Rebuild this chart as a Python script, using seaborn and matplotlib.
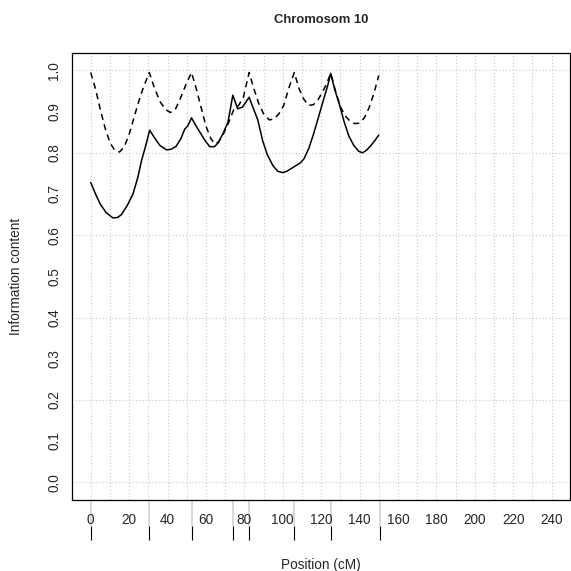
import matplotlib
matplotlib.use("Agg")
import matplotlib.pyplot as plt
import seaborn as sns
import numpy as np
import pandas as pd

# solid line: information content
pos_solid = [0, 2.5, 5, 8, 11.5, 14, 16, 19, 22, 24.5, 26.5, 28.5, 30.7, 33, 36, 39.5,
             42, 44.5, 47, 49, 50.5, 52.5, 54.5, 57, 59.5, 62, 64.5, 66.5, 69, 71.5, 74,
             76.5, 79, 82.5, 84.5, 87, 89.5, 92, 95, 97.5, 100, 102, 104.5, 106.5, 109,
             111, 113.5, 116, 118.5, 121, 123.5, 125, 127, 129.5, 132, 134.5, 137, 139.5,
             141.5, 143.5, 146, 148, 150]
info_solid = [0.728, 0.70, 0.675, 0.655, 0.642, 0.643, 0.65, 0.672, 0.70, 0.74, 0.782, 0.815,
              0.855, 0.838, 0.818, 0.807, 0.809, 0.816, 0.835, 0.858, 0.865, 0.885, 0.868,
              0.849, 0.83, 0.815, 0.815, 0.825, 0.848, 0.875, 0.94, 0.907, 0.911, 0.935,
              0.91, 0.88, 0.83, 0.795, 0.768, 0.755, 0.752, 0.755, 0.762, 0.768, 0.775,
              0.785, 0.81, 0.845, 0.885, 0.925, 0.965, 0.993, 0.955, 0.918, 0.875, 0.84,
              0.818, 0.804, 0.80, 0.806, 0.818, 0.83, 0.843]

# dashed line
pos_dashed = [0, 2.5, 5, 7.5, 10, 12.5, 15, 17.5, 20, 22.5, 25, 27.5, 30.5, 33, 36, 39,
              41.5, 44, 46.5, 49.5, 52.5, 55, 57.5, 60, 62.5, 64.5, 66.5, 69, 71.5, 74.5,
              77, 79.5, 82.5, 85, 87.5, 90, 93, 95.5, 98, 100.5, 103, 106, 108.5, 111,
              113.5, 116, 118.5, 121, 123, 125, 127.5, 130, 132.5, 135, 137.5, 140, 142.5,
              145, 147.5, 150]
info_dashed = [0.995, 0.955, 0.905, 0.86, 0.825, 0.806, 0.802, 0.815, 0.845, 0.885, 0.925,
               0.96, 0.995, 0.96, 0.925, 0.905, 0.898, 0.905, 0.93, 0.965, 0.995, 0.955,
               0.91, 0.865, 0.835, 0.822, 0.826, 0.845, 0.87, 0.905, 0.915, 0.935, 0.995,
               0.955, 0.92, 0.895, 0.88, 0.882, 0.895, 0.915, 0.955, 0.995, 0.956, 0.93,
               0.915, 0.917, 0.93, 0.95, 0.97, 0.993, 0.95, 0.912, 0.89, 0.877, 0.871,
               0.872, 0.885, 0.91, 0.945, 0.988]

markers = [0, 30.6, 52.6, 74.2, 82.5, 106.0, 125.1, 150.4]

x_ticks = list(range(0, 250, 10))
x_labels = [str(t) if t % 20 == 0 else '' for t in x_ticks]
y_ticks = [round(v * 0.1, 1) for v in range(11)]

sns.set_style("white")
plt.rcParams['font.family'] = ['Liberation Sans', 'DejaVu Sans']

df = pd.concat([
    pd.DataFrame({'pos': pos_solid, 'info': info_solid, 'kind': 'solid'}),
    pd.DataFrame({'pos': pos_dashed, 'info': info_dashed, 'kind': 'dashed'}),
])

W = 571
FS = 9.8
fig = plt.figure(figsize=(5.71, 5.71), dpi=100)
ax = fig.add_axes([72.3 / W, 71 / W, (570 - 72.3) / W, (500 - 52.7) / W])

# dotted grid
for t in x_ticks:
    ax.axvline(t, color='#c8c8c8', lw=0.8, ls=(0, (1, 2)), zorder=0)
for t in np.arange(0, 1.01, 0.2):
    ax.axhline(t, color='#c8c8c8', lw=0.8, ls=(0, (1, 2)), zorder=0)

sns.lineplot(data=df, x='pos', y='info', style='kind', color='black',
             dashes={'solid': '', 'dashed': (4, 3)}, estimator=None,
             linewidth=1.1, legend=False, ax=ax)

ax.set_xlim(-9.6, 249.6)
ax.set_ylim(-0.0432, 1.0432)

ax.set_xticks(x_ticks)
ax.set_xticklabels(x_labels, fontsize=FS)
ax.set_yticks(y_ticks)
ax.set_yticklabels([f"{v:.1f}" for v in y_ticks], fontsize=FS, rotation=90, va='center')
ax.tick_params(axis='both', direction='out', length=5.8, width=0.8, color='black')
ax.tick_params(axis='x', pad=3.3)
ax.tick_params(axis='y', pad=2)
ax.set_xlabel('')
ax.set_ylabel('')
for s in ax.spines.values():
    s.set_color('black')
    s.set_linewidth(0.9)

# marker positions under the axis
trans = ax.get_xaxis_transform()
ax.vlines(markers, 0, -0.058, transform=trans, colors='#d8d8d8', lw=1.4, clip_on=False, zorder=0)
ax.vlines(markers, -0.058, -0.0894, transform=trans, colors='black', lw=0.8, clip_on=False)

fig.text(321 / W, 1 - 20 / W, 'Chromosom 10', ha='center', va='center',
         fontsize=9.4, fontweight='bold')
fig.text(321 / W, 1 - 565 / W, 'Position (cM)', ha='center', va='center', fontsize=FS)
fig.text(16 / W, 1 - 276 / W, 'Information content', ha='center', va='center',
         rotation=90, fontsize=FS)

fig.savefig('out.png', dpi=100)
